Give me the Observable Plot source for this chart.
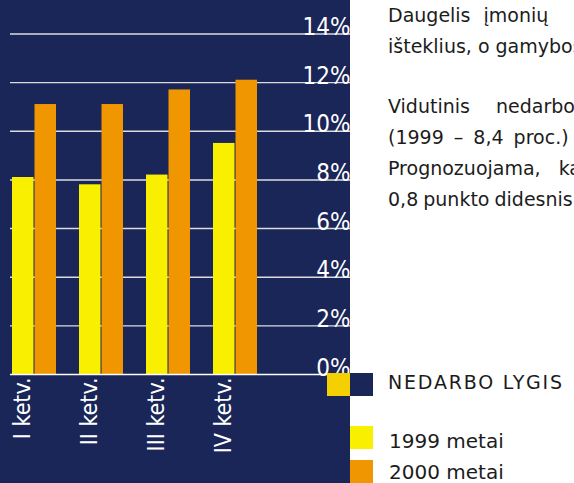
<!DOCTYPE html>
<html>
<head>
<meta charset="utf-8">
<script src="https://cdn.jsdelivr.net/npm/d3@7"></script>
<script src="https://cdn.jsdelivr.net/npm/@observablehq/plot@0.6"></script>
<style>
  html, body { margin: 0; padding: 0; background: #ffffff; }
  #wrap { position: relative; width: 574px; height: 483px; overflow: hidden; font-family: "DejaVu Sans", sans-serif; color: #1c1c1c; }
  #chart { position: absolute; left: 0; top: 0; }
  .para { position: absolute; left: 388px; font-size: 19px; line-height: 31px; white-space: nowrap; }
  .sq { position: absolute; width: 23px; height: 23px; }
  .lg { position: absolute; left: 389px; white-space: nowrap; }
</style>
</head>
<body>
<div id="wrap">
  <div id="chart"></div>
  <div class="para" style="top:0px">
    <div style="word-spacing:7px">Daugelis įmonių</div>
    <div>išteklius, o gamybos</div>
  </div>
  <div class="para" style="top:91px">
    <div style="word-spacing:20px">Vidutinis nedarbo</div>
    <div style="word-spacing:4px">(1999 – 8,4 proc.)</div>
    <div style="word-spacing:12px">Prognozuojama, kad</div>
    <div style="word-spacing:-1px">0,8 punkto didesnis</div>
  </div>
  <div id="legend"></div>
</div>
<script>
// ---- data ----
const quarters = ["I ketv.", "II ketv.", "III ketv.", "IV ketv."];
const values1999 = [8.1, 7.8, 8.2, 9.5];
const values2000 = [11.1, 11.1, 11.7, 12.1];
const yTicks = [0, 2, 4, 6, 8, 10, 12, 14];
const seriesNames = ["1999 metai", "2000 metai"];
const legendTitle = "NEDARBO LYGIS";

// ---- style ----
const navy = "#1a2558";
const yellow = "#f8f000";
const orange = "#ef9600";
const gold = "#f5d000";

const rows1999 = quarters.map((q, i) => ({quarter: q, value: values1999[i]}));
const rows2000 = quarters.map((q, i) => ({quarter: q, value: values2000[i]}));

const narrow = "'Liberation Sans Narrow', 'DejaVu Sans Condensed', sans-serif";

const chart = Plot.plot({
  width: 350,
  height: 483,
  marginLeft: 10,
  marginRight: 0,
  marginTop: 33.5,
  marginBottom: 109,
  style: {background: navy, overflow: "visible"},
  x: {domain: quarters, range: [10, 259], paddingInner: 0.338, paddingOuter: 0, axis: null},
  y: {domain: [0, 14], axis: null},
  marks: [
    Plot.ruleY(yTicks.filter(d => d > 0), {stroke: "#dcdcdc", strokeWidth: 1.4}),
    Plot.barY(rows1999, {x: "quarter", y: "value", fill: yellow, insetRight: 22.5}),
    Plot.barY(rows2000, {x: "quarter", y: "value", fill: orange, insetLeft: 22.5}),
    Plot.ruleY([0], {stroke: "#ffffff", strokeWidth: 1.5}),
    Plot.text(yTicks, {
      y: d => d, text: d => d + "%", frameAnchor: "right", textAnchor: "end",
      lineAnchor: "bottom", dy: 1, fill: "#ffffff", fontSize: 24, fontFamily: narrow
    }),
    Plot.text(quarters, {
      x: d => d, text: d => d, frameAnchor: "bottom", rotate: -90, textAnchor: "end",
      lineAnchor: "middle", dx: -12, dy: 3, fill: "#ffffff", fontSize: 23, fontFamily: narrow
    })
  ]
});
document.getElementById("chart").appendChild(chart);

// ---- legend (HTML) ----
const lg = document.getElementById("legend");
function add(html) { lg.insertAdjacentHTML("beforeend", html); }
add(`<div class="sq" style="left:327px;top:373px;background:${gold}"></div>`);
add(`<div class="sq" style="left:350px;top:373px;background:${navy}"></div>`);
add(`<div class="lg" style="left:388px;top:373px;font-size:19px;line-height:19px;letter-spacing:1.8px">${legendTitle}</div>`);
const legendColors = [yellow, orange];
const legendSqTops = [426, 460];
const legendTextTops = [431, 462];
seriesNames.forEach((name, i) => {
  add(`<div class="sq" style="left:350px;top:${legendSqTops[i]}px;background:${legendColors[i]}"></div>`);
  add(`<div class="lg" style="top:${legendTextTops[i]}px;font-size:20px;line-height:20px">${name}</div>`);
});
</script>
</body>
</html>
